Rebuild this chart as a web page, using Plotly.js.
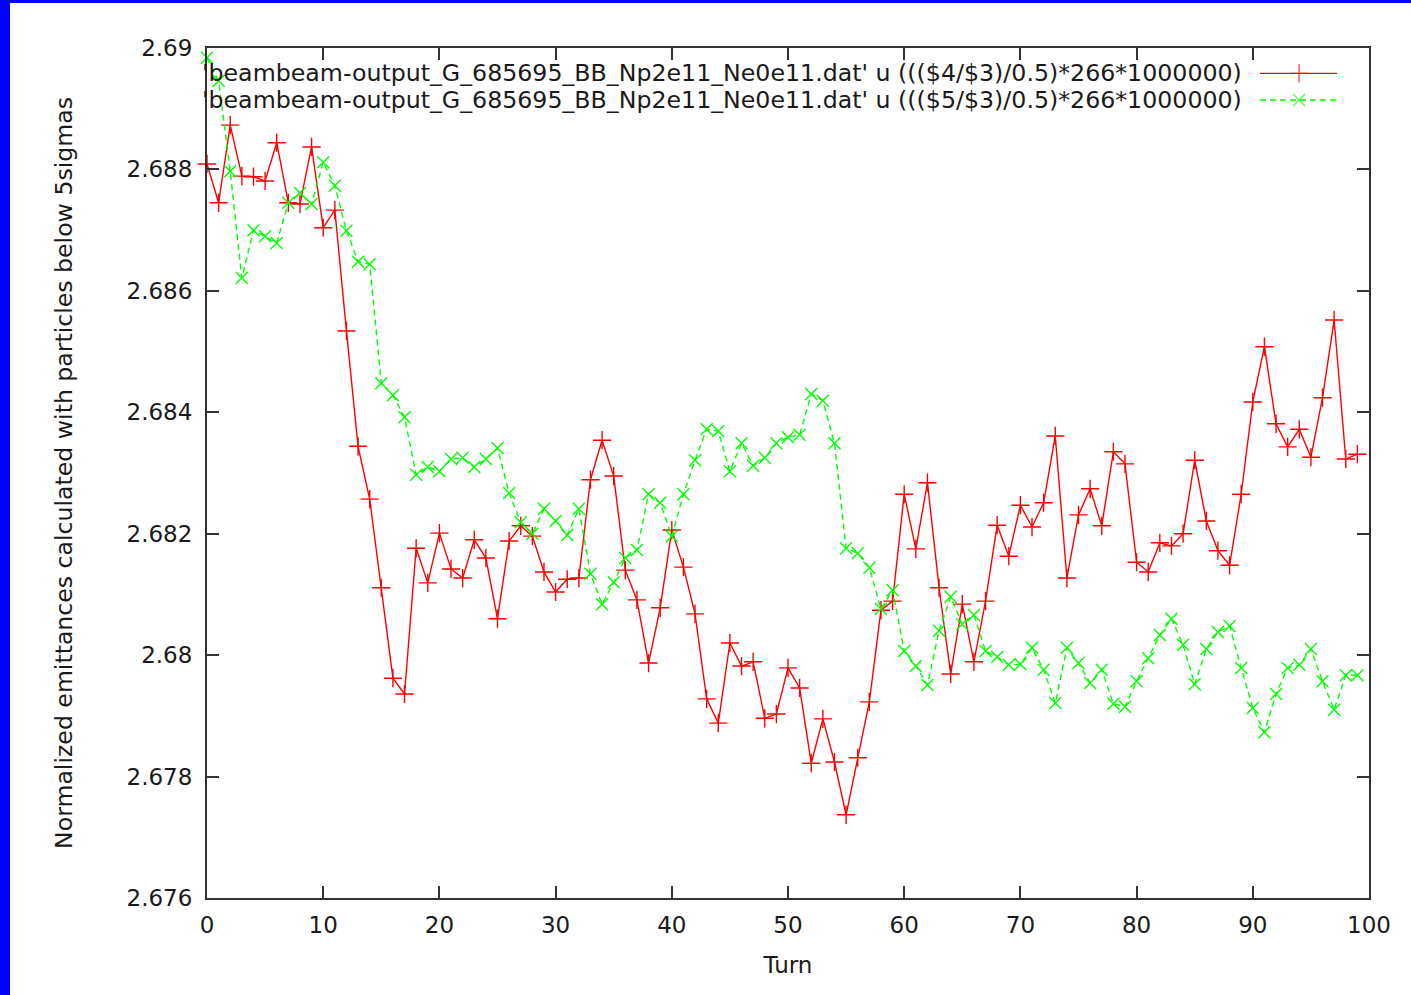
<!DOCTYPE html>
<html>
<head>
<meta charset="utf-8">
<script src="https://cdn.plot.ly/plotly-3.0.1.min.js"></script>
<style>
  html, body { margin: 0; padding: 0; background: #ffffff; }
  #chart { position: absolute; left: 0; top: 0; width: 1411px; height: 995px; }
  .edge { position: absolute; background: #0000ff; z-index: 5; }
  #edge-left { left: 0; top: 0; width: 10px; height: 995px; }
  #edge-top { left: 0; top: 0; width: 1411px; height: 3px; }
</style>
</head>
<body>
<div id="chart"></div>
<div class="edge" id="edge-left"></div>
<div class="edge" id="edge-top"></div>
<script>
// Turn numbers 0..99
const turns = [
  0,1,2,3,4,5,6,7,8,9,10,11,12,13,14,15,16,17,18,19,
  20,21,22,23,24,25,26,27,28,29,30,31,32,33,34,35,36,37,38,39,
  40,41,42,43,44,45,46,47,48,49,50,51,52,53,54,55,56,57,58,59,
  60,61,62,63,64,65,66,67,68,69,70,71,72,73,74,75,76,77,78,79,
  80,81,82,83,84,85,86,87,88,89,90,91,92,93,94,95,96,97,98,99
];

// Column 4 normalised emittance
const emitCol4 = [
  2.68809,2.68745,2.68873,2.68789,2.68788,2.68781,2.68844,2.68745,2.68743,2.68837,
  2.68704,2.68733,2.68534,2.68344,2.68257,2.68111,2.67962,2.67936,2.68176,2.68119,
  2.68201,2.68142,2.68127,2.68190,2.68160,2.68060,2.68188,2.68213,2.68196,2.68137,
  2.68104,2.68125,2.68127,2.68289,2.68354,2.68295,2.68140,2.68091,2.67987,2.68078,
  2.68206,2.68145,2.68068,2.67928,2.67888,2.68020,2.67982,2.67989,2.67896,2.67903,
  2.67979,2.67946,2.67822,2.67895,2.67824,2.67737,2.67831,2.67923,2.68074,2.68089,
  2.68265,2.68175,2.68284,2.68111,2.67969,2.68084,2.67989,2.68089,2.68214,2.68163,
  2.68247,2.68211,2.68251,2.68361,2.68127,2.68231,2.68274,2.68213,2.68335,2.68315,
  2.68153,2.68137,2.68185,2.68180,2.68200,2.68321,2.68221,2.68172,2.68148,2.68265,
  2.68417,2.68508,2.68381,2.68343,2.68372,2.68326,2.68424,2.68552,2.68323,2.68331
];

// Column 5 normalised emittance
const emitCol5 = [
  2.68984,2.68946,2.68797,2.68621,2.68700,2.68690,2.68679,2.68745,2.68761,2.68743,
  2.68812,2.68773,2.68699,2.68648,2.68644,2.68448,2.68428,2.68392,2.68297,2.68310,
  2.68303,2.68323,2.68325,2.68310,2.68323,2.68341,2.68267,2.68219,2.68200,2.68241,
  2.68221,2.68198,2.68241,2.68134,2.68084,2.68120,2.68160,2.68173,2.68265,2.68251,
  2.68196,2.68265,2.68321,2.68372,2.68369,2.68303,2.68349,2.68312,2.68325,2.68349,
  2.68359,2.68363,2.68430,2.68419,2.68349,2.68176,2.68168,2.68144,2.68076,2.68107,
  2.68007,2.67982,2.67951,2.68040,2.68096,2.68051,2.68066,2.68007,2.67997,2.67984,
  2.67985,2.68012,2.67976,2.67921,2.68012,2.67987,2.67954,2.67976,2.67920,2.67915,
  2.67957,2.67995,2.68033,2.68060,2.68017,2.67952,2.68010,2.68038,2.68048,2.67979,
  2.67913,2.67873,2.67936,2.67979,2.67984,2.68010,2.67957,2.67910,2.67967,2.67967
];

const seriesNames = [
  "'beambeam-output_G_685695_BB_Np2e11_Ne0e11.dat' u ((($4/$3)/0.5)*266*1000000)",
  "'beambeam-output_G_685695_BB_Np2e11_Ne0e11.dat' u ((($5/$3)/0.5)*266*1000000)"
];

const xTickVals = [0,10,20,30,40,50,60,70,80,90,100];
const yTickVals = [2.676,2.678,2.68,2.682,2.684,2.686,2.688,2.69];
const yTickText = ['2.676','2.678','2.68','2.682','2.684','2.686','2.688','2.69'];

const RED = '#ff0000';
const GREEN = '#00ff00';
const FONT = 'DejaVu Sans, Liberation Sans, sans-serif';
const TEXT = '#1a1a1a';
const AXIS = '#333333';

const redLine = { color: RED, width: 1.4 };
const greenLine = { color: GREEN, width: 1.4, dash: '6px,4px' };
const redMarker = { symbol: 'cross-thin-open', size: 13, line: { color: RED, width: 1.4 } };
const greenMarker = { symbol: 'x-thin-open', size: 12, line: { color: GREEN, width: 1.4 } };

// key samples live on an overlay axis pair spanning 0..1
const keyX = [0.9062, 0.9398, 0.9725];
const keyRows = [0.9702, 0.9388];
const keyTextX = 0.8925;

const traces = [
  { x: turns, y: emitCol4, type: 'scatter', mode: 'lines+markers',
    line: redLine, marker: redMarker, cliponaxis: false, showlegend: false },
  { x: turns, y: emitCol5, type: 'scatter', mode: 'lines+markers',
    line: greenLine, marker: greenMarker, cliponaxis: false, showlegend: false },
  { x: keyX, y: [keyRows[0], keyRows[0], keyRows[0]], xaxis: 'x2', yaxis: 'y2',
    type: 'scatter', mode: 'lines+markers', line: redLine,
    marker: Object.assign({}, redMarker, { size: [0, 13, 0] }), showlegend: false, hoverinfo: 'skip' },
  { x: keyX, y: [keyRows[1], keyRows[1], keyRows[1]], xaxis: 'x2', yaxis: 'y2',
    type: 'scatter', mode: 'lines+markers', line: greenLine,
    marker: Object.assign({}, greenMarker, { size: [0, 12, 0] }), showlegend: false, hoverinfo: 'skip' }
];

const layout = {
  width: 1411, height: 995,
  margin: { l: 207, r: 42, t: 48, b: 97 },
  paper_bgcolor: '#ffffff', plot_bgcolor: '#ffffff',
  font: { family: FONT, size: 23, color: TEXT },
  showlegend: false,
  xaxis: {
    range: [0, 100], tickvals: xTickVals, showgrid: false, zeroline: false,
    showline: true, linecolor: AXIS, linewidth: 2, mirror: 'ticks',
    ticks: 'inside', ticklen: 12, tickwidth: 2, tickcolor: AXIS,
    ticklabelstandoff: 5,
    tickfont: { family: FONT, size: 23, color: TEXT },
    title: { text: 'Turn', font: { family: FONT, size: 23, color: TEXT }, standoff: 20 }
  },
  yaxis: {
    range: [2.676, 2.69], tickvals: yTickVals, ticktext: yTickText,
    showgrid: false, zeroline: false,
    showline: true, linecolor: AXIS, linewidth: 2, mirror: 'ticks',
    ticks: 'inside', ticklen: 12, tickwidth: 2, tickcolor: AXIS,
    ticklabelstandoff: 8,
    tickfont: { family: FONT, size: 23, color: TEXT },
    title: { text: 'Normalized emittances calculated with particles below 5sigmas',
             font: { family: FONT, size: 23.6, color: TEXT }, standoff: 47 }
  },
  xaxis2: { overlaying: 'x', range: [0, 1], visible: false, fixedrange: true },
  yaxis2: { overlaying: 'y', range: [0, 1], visible: false, fixedrange: true },
  annotations: [
    { xref: 'paper', yref: 'paper', x: keyTextX, y: keyRows[0], xanchor: 'right', yanchor: 'middle',
      text: seriesNames[0], showarrow: false, font: { family: FONT, size: 23.7, color: TEXT } },
    { xref: 'paper', yref: 'paper', x: keyTextX, y: keyRows[1], xanchor: 'right', yanchor: 'middle',
      text: seriesNames[1], showarrow: false, font: { family: FONT, size: 23.7, color: TEXT } }
  ]
};

Plotly.newPlot('chart', traces, layout, { displayModeBar: false, staticPlot: true });
</script>
</body>
</html>
